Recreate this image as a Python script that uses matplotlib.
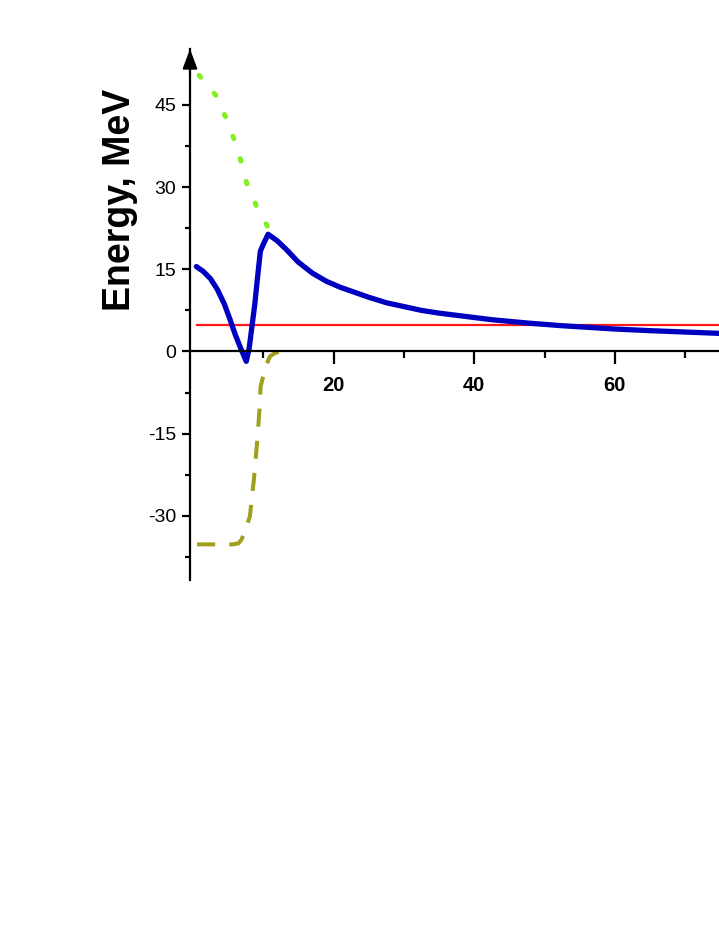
import matplotlib
matplotlib.use('Agg')
import matplotlib.pyplot as plt
from matplotlib.ticker import FixedLocator, MultipleLocator

plt.rcParams['font.family'] = ['Liberation Sans', 'DejaVu Sans']
plt.rcParams['axes.unicode_minus'] = False

# courbe totale (bleu)
x_total = [0.5, 1.5, 2.5, 3.5, 4.5, 5.3, 6.0, 6.8, 7.6, 8.0, 8.4, 8.8, 9.2, 9.6,
           10.0, 10.7, 12, 13.3, 15, 17, 19, 21, 23, 25, 27.5, 30, 32.5, 35, 37.5,
           40, 42.5, 45, 47.5, 50, 52.5, 55, 60, 65, 70, 75]
y_total = [15.5, 14.6, 13.3, 11.3, 8.6, 5.8, 3.2, 0.6, -1.8, 0.5, 4.5, 8.5, 13.5, 18.3,
           19.5, 21.4, 20.2, 18.6, 16.3, 14.3, 12.8, 11.7, 10.8, 9.9, 8.9, 8.2, 7.5, 7.0, 6.6,
           6.2, 5.8, 5.5, 5.2, 4.95, 4.7, 4.5, 4.1, 3.8, 3.55, 3.3]

# potentiel coulombien (vert, pointillé)
x_coul = [0.9, 3.3, 4.7, 5.9, 6.9, 7.7, 9.05, 10.8]
y_coul = [50.4, 46.7, 42.7, 38.6, 34.5, 30.5, 26.5, 22.4]

# potentiel nucléaire (olive, tirets)
x_nucl = [0.6, 3.0, 5.7, 6.5, 6.93, 7.4, 8.11, 8.68, 9.15, 9.53, 9.63, 10.38, 10.95,
          11.66, 12.2]
y_nucl = [-35.2, -35.2, -35.2, -35.0, -34.3, -32.8, -30.1, -23.4, -16.4, -9.7, -6.4,
          -2.7, -0.9, -0.3, -0.1]

# énergie du système (rouge)
x_energy = [0.6, 75]
y_energy = [4.85, 4.85]

fig = plt.figure(figsize=(7.19, 9.31), dpi=100)
ax = fig.add_axes([190 / 719, 1 - 580 / 931, 1 - 190 / 719, 531 / 931])

ax.plot(x_nucl, y_nucl, color='#a0a01e', lw=2.9, dashes=(4.5, 3.5), zorder=2)
ax.plot(x_coul, y_coul, color='#80f020', lw=3.6, dashes=(0.5, 4.2),
        dash_capstyle='round', zorder=2)
ax.plot(x_energy, y_energy, color='#ff1a1a', lw=1.6, zorder=3)
ax.plot(x_total, y_total, color='#0000c0', lw=3.8, solid_joinstyle='round',
        solid_capstyle='round', zorder=4)

ax.set_xlim(-0.4, 74.8)
ax.set_ylim(-41.7, 55.2)

for s in ['top', 'right']:
    ax.spines[s].set_visible(False)
ax.spines['bottom'].set_position(('data', 0))
for s in ['left', 'bottom']:
    ax.spines[s].set_linewidth(1.6)
    ax.spines[s].set_zorder(5)

ax.xaxis.set_major_locator(FixedLocator([20, 40, 60]))
ax.xaxis.set_minor_locator(FixedLocator([10, 30, 50, 70]))
ax.yaxis.set_major_locator(MultipleLocator(15))
ax.yaxis.set_minor_locator(MultipleLocator(7.5))

ax.tick_params(axis='x', which='major', direction='out', length=9.5, width=1.6,
               pad=8, labelsize=14.5)
ax.tick_params(axis='x', which='minor', direction='out', length=5, width=1.6)
ax.tick_params(axis='y', which='major', direction='out', length=6, width=1.6,
               pad=4, labelsize=14)
ax.tick_params(axis='y', which='minor', direction='out', length=3.5, width=1.6)
for lab in ax.get_xticklabels():
    lab.set_fontweight('bold')

# flèche en haut de l'axe
ax.annotate('', xy=(0, 1), xycoords='axes fraction', xytext=(0, 0.95),
            arrowprops=dict(arrowstyle='-|>,head_length=0.4,head_width=0.15',
                            mutation_scale=30, color='black', lw=1.5,
                            shrinkA=0, shrinkB=0), annotation_clip=False)

fig.text(120 / 719, 1 - 200 / 931, 'Energy, MeV', rotation=90, ha='center',
         va='center', fontsize=27, fontweight='bold')

fig.savefig('out.png', dpi=100)
